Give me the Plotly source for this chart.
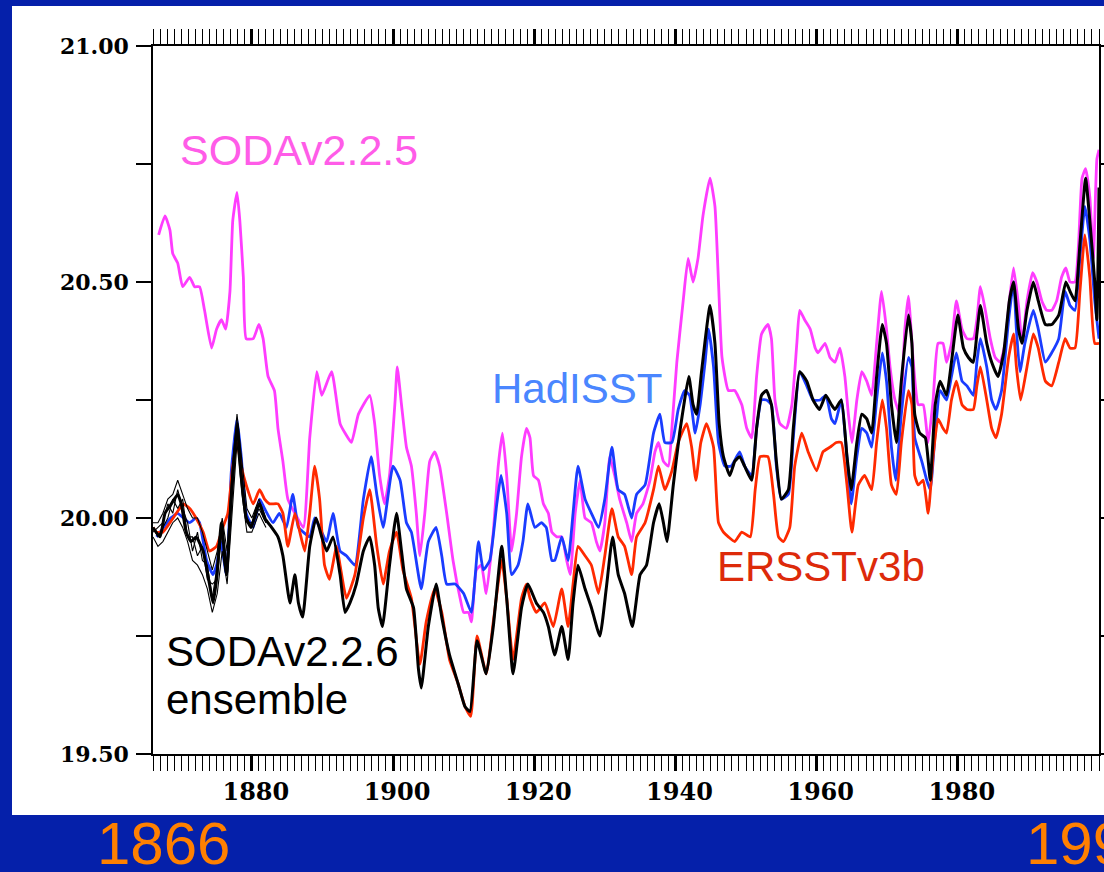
import plotly.graph_objects as go

# ---------------- data ----------------
SODA225_YEARS = [1866.8, 1867.7, 1868.4, 1868.8, 1869.5, 1870.2, 1871.2, 1871.9, 1872.6, 1873.3, 1874.3, 1875.0,
                 1875.7, 1876.3, 1876.9, 1877.3, 1877.9, 1878.3, 1878.8, 1879.2, 1880.2, 1881.0, 1881.6, 1882.3,
                 1883.2, 1883.7, 1884.4, 1885.1, 1886.1, 1887.3, 1888.2, 1889.2, 1889.9, 1891.3, 1892.5, 1893.2,
                 1894.1, 1895.1, 1896.7, 1897.4, 1898.1, 1898.8, 1899.5, 1900.3, 1900.6, 1901.2, 1901.9, 1902.6,
                 1903.3, 1903.8, 1904.5, 1905.2, 1905.9, 1906.6, 1907.6, 1908.5, 1909.5, 1910.0, 1910.7, 1911.1,
                 1911.8, 1912.5, 1913.2, 1914.2, 1914.9, 1915.5, 1916.1, 1916.8, 1917.5, 1918.2, 1918.9, 1919.4,
                 1919.9, 1920.6, 1921.3, 1922.0, 1922.5, 1923.2, 1923.9, 1924.6, 1925.1, 1925.8, 1926.5, 1927.2,
                 1928.1, 1928.8, 1929.3, 1930.0, 1930.7, 1931.4, 1932.1, 1933.1, 1933.8, 1934.5, 1935.4, 1936.4,
                 1937.1, 1937.6, 1938.3, 1939.0, 1939.5, 1940.2, 1941.1, 1941.8, 1942.5, 1943.2, 1943.9, 1944.9,
                 1945.6, 1946.1, 1946.6, 1947.5, 1948.4, 1949.4, 1950.1, 1950.8, 1951.5, 1952.2, 1953.1, 1953.6,
                 1954.1, 1954.8, 1955.7, 1956.5, 1957.2, 1957.6, 1958.3, 1959.1, 1959.8, 1960.2, 1961.2, 1961.9,
                 1962.6, 1963.3, 1964.0, 1964.5, 1965.0, 1965.7, 1966.4, 1967.1, 1967.8, 1968.5, 1969.2, 1969.9,
                 1970.4, 1971.1, 1971.8, 1972.5, 1973.0, 1973.7, 1974.4, 1975.1, 1975.8, 1976.5, 1977.2, 1977.9,
                 1978.4, 1979.1, 1979.8, 1980.6, 1981.3, 1982.2, 1982.7, 1983.2, 1983.9, 1984.6, 1985.3, 1986.0,
                 1986.7, 1987.3, 1987.9, 1988.6, 1989.1, 1989.8, 1990.6, 1991.2, 1991.9, 1992.6, 1993.3, 1994.0,
                 1994.7, 1995.3, 1995.9, 1996.6, 1997.1, 1997.6, 1998.1, 1998.7, 1999.2, 1999.7, 2000.0]
SODA225_VALUES = [20.60, 20.64, 20.61, 20.56, 20.54, 20.49, 20.51, 20.49, 20.49, 20.44, 20.36, 20.40,
                  20.42, 20.40, 20.48, 20.63, 20.69, 20.63, 20.51, 20.38, 20.38, 20.41, 20.38, 20.30,
                  20.27, 20.19, 20.12, 20.04, 20.01, 19.98, 20.17, 20.31, 20.26, 20.31, 20.20, 20.18,
                  20.16, 20.22, 20.26, 20.20, 20.09, 20.03, 20.09, 20.25, 20.32, 20.24, 20.15, 20.11,
                  20.01, 19.92, 20.01, 20.12, 20.14, 20.11, 20.01, 19.91, 19.83, 19.80, 19.80, 19.78,
                  19.89, 19.90, 19.84, 19.97, 20.11, 20.18, 20.09, 19.93, 20.01, 20.13, 20.19, 20.17,
                  20.09, 20.08, 20.03, 20.01, 19.97, 19.96, 19.96, 19.91, 19.88, 20.01, 20.08, 20.00,
                  19.99, 19.95, 19.93, 19.99, 20.13, 20.09, 20.04, 19.99, 19.95, 20.01, 20.03, 20.08,
                  20.14, 20.16, 20.12, 20.11, 20.19, 20.33, 20.46, 20.55, 20.50, 20.55, 20.64, 20.72,
                  20.66, 20.50, 20.34, 20.27, 20.27, 20.24, 20.19, 20.17, 20.30, 20.39, 20.41, 20.38,
                  20.25, 20.20, 20.19, 20.24, 20.37, 20.44, 20.42, 20.40, 20.36, 20.35, 20.37, 20.34,
                  20.33, 20.36, 20.30, 20.22, 20.16, 20.25, 20.31, 20.29, 20.26, 20.37, 20.48, 20.40,
                  20.32, 20.25, 20.22, 20.40, 20.47, 20.33, 20.24, 20.24, 20.16, 20.25, 20.37, 20.37,
                  20.33, 20.37, 20.46, 20.40, 20.38, 20.38, 20.42, 20.49, 20.44, 20.38, 20.34, 20.33,
                  20.37, 20.46, 20.53, 20.45, 20.37, 20.46, 20.52, 20.50, 20.46, 20.44, 20.44, 20.46,
                  20.51, 20.53, 20.50, 20.50, 20.58, 20.72, 20.74, 20.68, 20.55, 20.76, 20.78]

HADISST_YEARS = [1866.5, 1867.5, 1868.5, 1869.5, 1870.3, 1871.2, 1872.1, 1872.6, 1873.6, 1874.5, 1875.0, 1875.6,
                 1876.4, 1877.1, 1877.9, 1878.5, 1879.2, 1880.2, 1881.1, 1881.8, 1883.0, 1883.9, 1884.9, 1885.8,
                 1886.6, 1887.3, 1888.2, 1888.9, 1889.6, 1890.6, 1891.5, 1892.5, 1893.4, 1894.6, 1895.8, 1896.9,
                 1897.7, 1898.6, 1900.0, 1901.0, 1901.9, 1902.6, 1904.0, 1905.0, 1906.1, 1906.9, 1907.6, 1908.8,
                 1910.0, 1911.1, 1912.1, 1912.8, 1913.7, 1914.7, 1915.3, 1916.1, 1916.8, 1917.7, 1918.4, 1919.1,
                 1920.1, 1921.0, 1921.7, 1922.5, 1922.9, 1923.9, 1924.8, 1925.5, 1926.2, 1927.2, 1928.1, 1929.1,
                 1930.0, 1931.0, 1931.9, 1932.8, 1933.8, 1934.5, 1935.7, 1936.9, 1937.8, 1938.5, 1939.5, 1940.4,
                 1941.3, 1942.0, 1942.8, 1943.5, 1944.2, 1944.7, 1945.4, 1946.1, 1947.0, 1947.9, 1949.1, 1949.8,
                 1950.8, 1951.5, 1952.2, 1952.9, 1953.6, 1954.3, 1955.0, 1956.0, 1956.7, 1957.6, 1958.6, 1959.5,
                 1960.5, 1961.3, 1962.1, 1962.6, 1963.5, 1964.3, 1964.9, 1965.7, 1966.4, 1967.1, 1967.8, 1968.5,
                 1969.3, 1969.9, 1970.6, 1971.2, 1972.0, 1973.0, 1973.5, 1973.9, 1974.9, 1975.6, 1976.1, 1976.8,
                 1977.5, 1978.4, 1979.1, 1979.8, 1980.6, 1981.3, 1982.2, 1982.7, 1983.2, 1984.1, 1984.8, 1985.4,
                 1986.2, 1987.2, 1987.9, 1988.3, 1988.8, 1989.5, 1990.7, 1991.4, 1992.4, 1993.3, 1994.3, 1995.2,
                 1995.9, 1996.6, 1997.3, 1998.0, 1998.7, 1999.4, 2000.0]
HADISST_VALUES = [19.96, 19.98, 20.00, 20.01, 20.00, 19.99, 20.00, 19.99, 19.91, 19.88, 19.90, 19.95,
                  19.88, 20.10, 20.21, 20.13, 20.01, 19.98, 20.04, 20.02, 19.99, 20.01, 19.98, 20.05,
                  19.98, 19.97, 19.96, 20.00, 19.98, 19.95, 20.01, 19.93, 19.92, 19.90, 20.04, 20.13,
                  20.05, 19.98, 20.11, 20.08, 19.99, 19.97, 19.85, 19.95, 19.98, 19.92, 19.86, 19.86,
                  19.84, 19.80, 19.95, 19.89, 19.91, 20.03, 20.09, 20.01, 19.88, 19.90, 19.95, 20.03,
                  19.98, 19.99, 19.98, 19.91, 19.91, 19.96, 19.91, 20.01, 20.11, 20.04, 20.01, 19.98,
                  20.04, 20.15, 20.06, 20.05, 20.00, 20.05, 20.07, 20.18, 20.22, 20.16, 20.16, 20.23,
                  20.27, 20.26, 20.18, 20.24, 20.33, 20.40, 20.32, 20.16, 20.11, 20.11, 20.14, 20.11,
                  20.09, 20.19, 20.25, 20.25, 20.24, 20.11, 20.04, 20.05, 20.17, 20.31, 20.28, 20.25,
                  20.25, 20.26, 20.21, 20.20, 20.25, 20.13, 20.03, 20.13, 20.19, 20.18, 20.15, 20.25,
                  20.35, 20.29, 20.15, 20.08, 20.22, 20.34, 20.32, 20.17, 20.12, 20.08, 20.06, 20.18,
                  20.27, 20.25, 20.30, 20.35, 20.29, 20.28, 20.26, 20.33, 20.38, 20.32, 20.25, 20.23,
                  20.27, 20.42, 20.50, 20.40, 20.31, 20.37, 20.44, 20.40, 20.33, 20.35, 20.38, 20.48,
                  20.45, 20.44, 20.55, 20.66, 20.59, 20.46, 20.38]

ERSST_YEARS = [1866.0, 1866.5, 1867.4, 1868.4, 1869.3, 1870.3, 1871.2, 1872.1, 1873.1, 1874.0, 1875.0, 1875.9,
               1876.6, 1877.3, 1877.9, 1878.5, 1879.2, 1880.2, 1881.1, 1881.8, 1882.5, 1883.7, 1884.4, 1885.1,
               1886.1, 1886.8, 1887.5, 1888.2, 1888.9, 1889.6, 1890.3, 1891.0, 1892.0, 1892.5, 1893.4, 1894.6,
               1895.8, 1896.7, 1897.7, 1898.6, 1899.5, 1900.5, 1901.4, 1902.6, 1903.8, 1904.7, 1905.9, 1906.9,
               1908.0, 1909.2, 1910.2, 1911.0, 1911.9, 1913.2, 1914.2, 1915.4, 1916.1, 1917.0, 1918.2, 1918.9,
               1919.4, 1920.3, 1921.5, 1922.7, 1923.9, 1924.8, 1925.5, 1926.2, 1927.2, 1928.1, 1929.1, 1930.0,
               1931.0, 1931.9, 1932.8, 1933.8, 1934.5, 1935.7, 1936.9, 1937.6, 1938.5, 1939.5, 1940.4, 1941.6,
               1942.3, 1942.9, 1943.6, 1944.4, 1945.4, 1946.1, 1946.8, 1947.5, 1948.4, 1949.4, 1950.6, 1951.3,
               1952.0, 1953.1, 1953.9, 1954.6, 1955.3, 1956.2, 1956.9, 1957.9, 1958.8, 1960.0, 1960.9, 1961.9,
               1962.8, 1963.5, 1964.3, 1965.0, 1965.9, 1966.8, 1967.8, 1968.5, 1969.3, 1969.9, 1970.6, 1971.3,
               1972.0, 1973.0, 1973.5, 1973.9, 1974.4, 1975.1, 1975.8, 1976.5, 1977.2, 1977.9, 1978.4, 1979.1,
               1979.8, 1980.6, 1981.3, 1982.2, 1982.7, 1983.2, 1984.1, 1984.8, 1985.4, 1986.2, 1987.2, 1987.9,
               1988.3, 1988.9, 1989.8, 1990.7, 1991.4, 1992.4, 1993.3, 1994.3, 1995.2, 1995.9, 1996.6, 1997.3,
               1998.0, 1998.7, 1999.4, 2000.0]
ERSST_VALUES = [19.98, 19.97, 19.97, 19.99, 20.01, 20.03, 20.02, 20.00, 19.97, 19.93, 19.94, 19.98,
                20.01, 20.11, 20.16, 20.11, 20.07, 20.03, 20.06, 20.04, 20.03, 20.03, 20.01, 19.94,
                20.01, 19.97, 19.93, 20.01, 20.11, 20.04, 19.90, 19.87, 19.94, 19.90, 19.83, 19.88,
                20.00, 20.06, 19.94, 19.86, 19.93, 19.97, 19.89, 19.83, 19.69, 19.78, 19.85, 19.80,
                19.70, 19.65, 19.60, 19.58, 19.75, 19.67, 19.78, 19.91, 19.83, 19.70, 19.83, 19.86,
                19.83, 19.80, 19.82, 19.77, 19.85, 19.77, 19.86, 19.94, 19.92, 19.90, 19.84, 19.92,
                20.02, 19.96, 19.94, 19.88, 19.96, 19.99, 20.06, 20.11, 20.06, 20.10, 20.16, 20.20,
                20.15, 20.08, 20.16, 20.20, 20.15, 19.99, 19.97, 19.96, 19.95, 19.97, 19.96, 20.06,
                20.13, 20.13, 20.05, 19.96, 19.95, 19.98, 20.11, 20.18, 20.14, 20.10, 20.14, 20.15,
                20.16, 20.16, 20.07, 19.97, 20.07, 20.09, 20.06, 20.16, 20.25, 20.19, 20.07, 20.05,
                20.16, 20.27, 20.24, 20.09, 20.07, 20.08, 20.01, 20.13, 20.21, 20.19, 20.18, 20.25,
                20.29, 20.24, 20.23, 20.23, 20.28, 20.32, 20.25, 20.19, 20.17, 20.22, 20.34, 20.39,
                20.32, 20.25, 20.32, 20.39, 20.36, 20.29, 20.28, 20.33, 20.38, 20.36, 20.36, 20.48,
                20.60, 20.51, 20.37, 20.37]

SODA226_YEARS = [1866.0, 1867.0, 1867.7, 1868.6, 1869.5, 1870.0, 1870.7, 1871.4, 1872.1, 1873.1, 1874.0, 1874.5,
                 1875.0, 1875.7, 1876.4, 1877.1, 1877.9, 1878.5, 1879.2, 1879.9, 1880.7, 1881.1, 1881.8, 1882.8,
                 1883.7, 1884.4, 1885.4, 1886.1, 1886.6, 1887.2, 1888.2, 1889.1, 1889.9, 1890.6, 1891.5, 1892.5,
                 1893.2, 1893.9, 1894.8, 1895.8, 1896.7, 1897.4, 1897.9, 1898.5, 1899.5, 1900.5, 1901.2, 1901.9,
                 1902.9, 1903.6, 1904.0, 1905.0, 1906.1, 1906.9, 1908.0, 1909.2, 1910.2, 1910.9, 1911.9, 1913.2,
                 1914.2, 1915.4, 1916.1, 1917.0, 1918.2, 1919.1, 1920.3, 1921.3, 1922.0, 1922.9, 1923.9, 1924.8,
                 1925.5, 1926.2, 1927.2, 1928.1, 1929.3, 1930.2, 1931.1, 1931.9, 1932.8, 1933.9, 1935.0, 1935.9,
                 1936.9, 1937.7, 1938.3, 1938.8, 1939.7, 1940.6, 1941.3, 1941.9, 1942.5, 1943.0, 1943.7, 1944.9,
                 1945.6, 1946.2, 1946.8, 1947.7, 1948.4, 1949.1, 1949.8, 1950.8, 1951.5, 1952.2, 1952.9, 1953.6,
                 1954.3, 1955.0, 1956.0, 1956.7, 1957.6, 1958.6, 1959.5, 1960.4, 1961.3, 1962.1, 1962.6, 1963.5,
                 1964.3, 1964.9, 1965.7, 1966.4, 1967.1, 1967.8, 1968.5, 1969.3, 1969.9, 1970.6, 1971.3, 1972.0,
                 1973.0, 1973.5, 1973.9, 1974.6, 1975.4, 1976.1, 1976.8, 1977.5, 1978.4, 1979.1, 1980.0, 1980.8,
                 1981.5, 1982.2, 1982.7, 1983.2, 1984.1, 1984.8, 1985.7, 1986.5, 1987.3, 1987.9, 1988.6, 1989.1,
                 1989.8, 1990.7, 1991.4, 1992.4, 1993.3, 1994.3, 1995.3, 1995.9, 1996.6, 1997.3, 1998.1, 1998.7,
                 1999.4, 1999.7, 2000.0]
SODA226_VALUES = [19.98, 19.96, 20.01, 20.03, 20.05, 20.03, 19.97, 19.95, 19.96, 19.93, 19.86, 19.82,
                  19.87, 19.99, 19.88, 20.05, 20.20, 20.09, 20.00, 19.98, 20.02, 20.03, 20.00, 19.98,
                  19.96, 19.92, 19.82, 19.88, 19.82, 19.79, 19.94, 20.00, 19.96, 19.93, 19.96, 19.88,
                  19.80, 19.82, 19.86, 19.93, 19.96, 19.90, 19.81, 19.77, 19.90, 20.01, 19.93, 19.85,
                  19.81, 19.68, 19.64, 19.77, 19.86, 19.79, 19.71, 19.65, 19.60, 19.59, 19.74, 19.67,
                  19.77, 19.94, 19.83, 19.67, 19.81, 19.86, 19.82, 19.80, 19.77, 19.71, 19.77, 19.70,
                  19.82, 19.90, 19.85, 19.81, 19.75, 19.85, 19.96, 19.88, 19.84, 19.77, 19.88, 19.90,
                  19.99, 20.03, 19.99, 19.95, 20.07, 20.18, 20.25, 20.30, 20.24, 20.22, 20.31, 20.45,
                  20.37, 20.20, 20.13, 20.09, 20.12, 20.13, 20.11, 20.08, 20.19, 20.26, 20.27, 20.24,
                  20.12, 20.04, 20.06, 20.19, 20.31, 20.29, 20.25, 20.23, 20.26, 20.24, 20.23, 20.25,
                  20.13, 20.06, 20.16, 20.22, 20.21, 20.18, 20.30, 20.41, 20.37, 20.24, 20.16, 20.29,
                  20.43, 20.37, 20.22, 20.18, 20.17, 20.08, 20.24, 20.29, 20.26, 20.33, 20.43, 20.36,
                  20.34, 20.33, 20.39, 20.45, 20.37, 20.33, 20.30, 20.35, 20.46, 20.50, 20.40, 20.37,
                  20.44, 20.50, 20.46, 20.41, 20.41, 20.43, 20.50, 20.48, 20.46, 20.58, 20.72, 20.63,
                  20.50, 20.42, 20.70]

# individual ensemble members, visible where they spread apart (early years)
MEMBER_YEARS = [1866.0, 1866.7, 1867.4, 1868.1, 1868.8, 1869.5, 1870.2, 1870.9, 1871.6, 1872.3, 1873.0, 1873.7,
                1874.4, 1875.1, 1875.8, 1876.5, 1877.2, 1877.9, 1878.6, 1879.3, 1880.0, 1881.0, 1882.0]
MEMBER_1 = [19.99, 19.99, 20.01, 20.04, 20.05, 20.08, 20.05, 20.02, 20.00, 20.00, 19.97, 19.93,
            19.89, 19.93, 20.00, 19.93, 20.10, 20.22, 20.12, 20.02, 20.00, 20.04, 20.00]
MEMBER_2 = [19.96, 19.94, 19.95, 19.97, 19.99, 20.00, 19.98, 19.95, 19.91, 19.90, 19.88, 19.85,
            19.80, 19.84, 19.93, 19.86, 20.00, 20.16, 20.05, 19.97, 19.97, 20.01, 19.98]
MEMBER_3 = [19.97, 19.98, 19.99, 20.03, 20.01, 20.06, 20.02, 19.99, 19.93, 19.97, 19.91, 19.90,
            19.83, 19.90, 19.97, 19.88, 20.07, 20.19, 20.07, 20.00, 19.98, 20.02, 19.99]
MEMBER_4 = [19.98, 19.96, 19.98, 20.00, 20.04, 20.02, 20.04, 19.96, 19.96, 19.92, 19.94, 19.87,
            19.86, 19.87, 19.98, 19.90, 20.04, 20.18, 20.09, 19.99, 19.99, 20.03, 19.99]

X_TICKS = [1880, 1900, 1920, 1940, 1960, 1980]
X_TICK_LABELS = ["1880", "1900", "1920", "1940", "1960", "1980"]
Y_TICKS = [19.5, 20.0, 20.5, 21.0]
Y_TICK_LABELS = ["19.50", "20.00", "20.50", "21.00"]

# ---------------- layout geometry (pixels) ----------------
W, H = 1104, 872
PL, PT, PW, PH = 153, 46, 946, 708


def px(x):
    return (x - PL) / PW


def py(y):
    return (PT + PH - y) / PH


BG = "rgb(5,32,170)"
LINE_SHAPE = dict(shape="spline", smoothing=0.45)

fig = go.Figure()

fig.add_trace(go.Scatter(x=SODA225_YEARS, y=SODA225_VALUES, mode="lines",
                         line=dict(color="#ff3cff", width=2.8, **LINE_SHAPE), name="SODAv2.2.5"))
fig.add_trace(go.Scatter(x=HADISST_YEARS, y=HADISST_VALUES, mode="lines",
                         line=dict(color="#1a3cff", width=2.8, **LINE_SHAPE), name="HadISST"))
fig.add_trace(go.Scatter(x=ERSST_YEARS, y=ERSST_VALUES, mode="lines",
                         line=dict(color="#ff2a00", width=2.8, **LINE_SHAPE), name="ERSSTv3b"))
for m in (MEMBER_1, MEMBER_2, MEMBER_3, MEMBER_4):
    fig.add_trace(go.Scatter(x=MEMBER_YEARS, y=m, mode="lines",
                             line=dict(color="black", width=1.1), showlegend=False))
fig.add_trace(go.Scatter(x=SODA226_YEARS, y=SODA226_VALUES, mode="lines",
                         line=dict(color="black", width=3.0, **LINE_SHAPE), name="SODAv2.2.6 ensemble"))

ann_font = "Liberation Sans, Arial, sans-serif"
annotations = [
    dict(text="SODAv2.2.5", x=px(178), y=py(150), color="#ff5ce8", size=43),
    dict(text="HadISST", x=px(490), y=py(388), color="#4a86ff", size=42),
    dict(text="ERSSTv3b", x=px(715), y=py(566), color="#dd2a0a", size=42),
    dict(text="SODAv2.2.6", x=px(164), y=py(651), color="black", size=42),
    dict(text="ensemble", x=px(164), y=py(699), color="black", size=42),
    dict(text="1866", x=px(95), y=py(843), color="#ff8000", size=60),
    dict(text="1999", x=px(1024), y=py(843), color="#ff8000", size=60),
]
fig.update_layout(annotations=[
    dict(text=a["text"], x=a["x"], y=a["y"], xref="paper", yref="paper", xanchor="left",
         yanchor="middle", showarrow=False, font=dict(family=ann_font, size=a["size"], color=a["color"]))
    for a in annotations
])

# white panel behind the chart
fig.add_shape(type="rect", xref="paper", yref="paper", x0=px(12), x1=px(1130), y0=py(815), y1=py(6),
              fillcolor="white", line=dict(width=0), layer="below")

tick_font_y = dict(family="DejaVu Serif, serif", size=22, color="black", weight="bold")
tick_font_x = dict(family="DejaVu Serif, serif", size=24, color="black", weight="bold")

fig.update_layout(
    width=W, height=H,
    margin=dict(l=PL, r=W - PL - PW, t=PT, b=H - PT - PH, pad=0, autoexpand=False),
    paper_bgcolor=BG, plot_bgcolor="white",
    showlegend=False,
    xaxis=dict(range=[1866, 2000], tickmode="array", tickvals=X_TICKS, ticktext=X_TICK_LABELS,
               automargin=False,
               ticks="outside", ticklen=15, tickwidth=2.6, tickcolor="black",
               showline=True, linecolor="black", linewidth=1.5, mirror="ticks",
               showgrid=False, zeroline=False, tickfont=tick_font_x, ticklabelstandoff=0,
               ticklabelshift=4,
               minor=dict(tickmode="linear", tick0=1866, dtick=1, ticks="outside", ticklen=15,
                          tickwidth=1.1, tickcolor="black", showgrid=False)),
    yaxis=dict(range=[19.5, 21.0], tickmode="array", tickvals=Y_TICKS, ticktext=Y_TICK_LABELS,
               automargin=False,
               ticks="outside", ticklen=15, tickwidth=1.5, tickcolor="black",
               showline=True, linecolor="black", linewidth=1.5, mirror="ticks",
               showgrid=False, zeroline=False, tickfont=tick_font_y, ticklabelstandoff=3,
               minor=dict(tickmode="linear", tick0=19.5, dtick=0.25, ticks="outside", ticklen=15,
                          tickwidth=1.5, tickcolor="black", showgrid=False)),
)

fig.write_html("out.html")
